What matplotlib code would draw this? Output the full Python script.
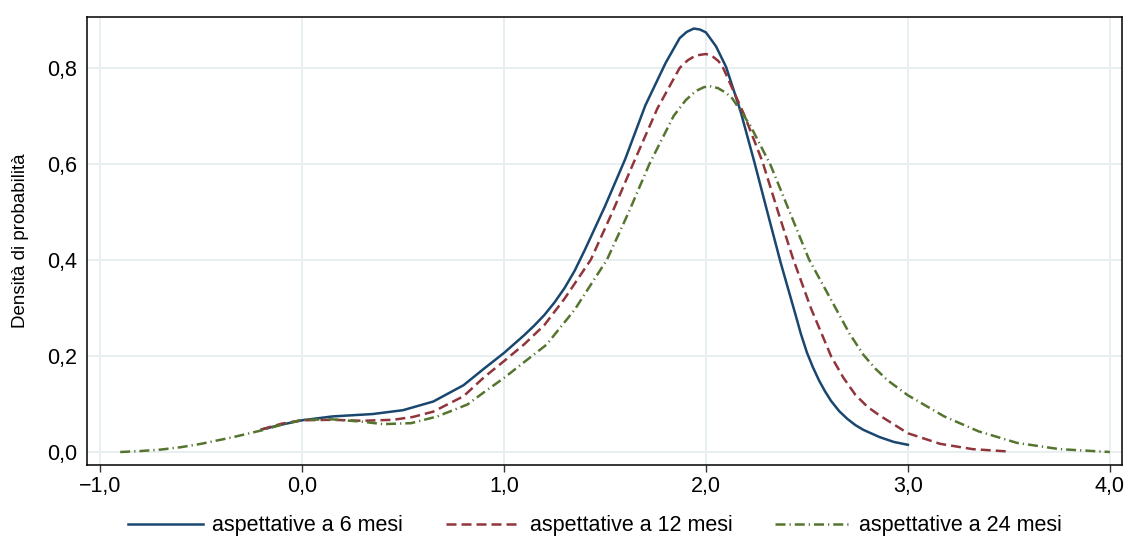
import matplotlib
matplotlib.use("Agg")
import matplotlib.pyplot as plt

plt.rcParams["font.family"] = ["Liberation Sans", "DejaVu Sans"]

# ── data (x = inflation expectation, y = density) ────
x_6m = [-0.2, -0.1, 0.0, 0.15, 0.35, 0.5, 0.65, 0.8, 0.9, 1.0, 1.1, 1.15,
        1.2, 1.25, 1.3, 1.35, 1.4, 1.5, 1.6, 1.7, 1.8, 1.87, 1.905, 1.94,
        1.97, 2.0, 2.05, 2.1, 2.17, 2.24, 2.3, 2.37, 2.44, 2.47, 2.5, 2.53,
        2.56, 2.59, 2.62, 2.66, 2.7, 2.74, 2.78, 2.86, 2.93, 3.0]
y_6m = [0.048, 0.058, 0.067, 0.075, 0.080, 0.088, 0.106, 0.140, 0.174, 0.207,
        0.244, 0.264, 0.286, 0.312, 0.342, 0.378, 0.421, 0.512, 0.610, 0.722,
        0.810, 0.862, 0.875, 0.882, 0.880, 0.874, 0.845, 0.802, 0.712, 0.604,
        0.507, 0.395, 0.292, 0.247, 0.208, 0.177, 0.150, 0.127, 0.107, 0.086,
        0.070, 0.057, 0.047, 0.032, 0.022, 0.016]

x_12m = [-0.2, -0.1, 0.0, 0.15, 0.3, 0.45, 0.55, 0.65, 0.8, 0.9, 1.0, 1.1,
         1.2, 1.3, 1.43, 1.54, 1.64, 1.76, 1.87, 1.91, 1.95, 2.0, 2.03, 2.06,
         2.08, 2.19, 2.28, 2.36, 2.43, 2.52, 2.62, 2.68, 2.74, 2.8, 2.86, 3.0,
         3.16, 3.32, 3.5]
y_12m = [0.048, 0.060, 0.067, 0.068, 0.066, 0.068, 0.074, 0.085, 0.117, 0.156,
         0.190, 0.225, 0.265, 0.320, 0.401, 0.503, 0.601, 0.716, 0.800, 0.816,
         0.826, 0.829, 0.825, 0.815, 0.805, 0.702, 0.605, 0.497, 0.405, 0.300,
         0.200, 0.156, 0.120, 0.095, 0.077, 0.040, 0.018, 0.007, 0.002]

x_24m = [-0.9, -0.8, -0.7, -0.6, -0.5, -0.34, -0.19, -0.1, 0.0, 0.15, 0.3,
         0.4, 0.54, 0.67, 0.82, 0.9, 1.0, 1.1, 1.21, 1.35, 1.51, 1.62, 1.72,
         1.84, 1.9, 1.95, 1.99, 2.02, 2.06, 2.1, 2.13, 2.22, 2.32, 2.42, 2.51,
         2.64, 2.71, 2.78, 2.84, 2.9, 3.0, 3.18, 3.35, 3.54, 3.75, 4.0]
y_24m = [0.001, 0.003, 0.006, 0.011, 0.018, 0.032, 0.047, 0.058, 0.068, 0.069,
         0.064, 0.059, 0.061, 0.075, 0.100, 0.125, 0.155, 0.188, 0.224, 0.297,
         0.401, 0.502, 0.600, 0.700, 0.733, 0.752, 0.760, 0.762, 0.758, 0.748,
         0.737, 0.680, 0.598, 0.495, 0.402, 0.302, 0.248, 0.203, 0.174, 0.150,
         0.119, 0.075, 0.044, 0.020, 0.007, 0.001]

labels = ["aspettative a 6 mesi", "aspettative a 12 mesi", "aspettative a 24 mesi"]
x_ticks = [-1.0, 0.0, 1.0, 2.0, 3.0, 4.0]
x_tick_labels = ["\u22121,0", "0,0", "1,0", "2,0", "3,0", "4,0"]
y_ticks = [0.0, 0.2, 0.4, 0.6, 0.8]
y_tick_labels = ["0,0", "0,2", "0,4", "0,6", "0,8"]

BLUE, RED, GREEN = "#1a476f", "#90353b", "#55752f"
GRID = "#e6eef0"

fig = plt.figure(figsize=(11.29, 5.38), dpi=100)
ax = fig.add_axes([0.0771, 0.1357, 0.9167, 0.8327])

lw = 1.8
ax.plot(x_6m, y_6m, color=BLUE, lw=lw, label=labels[0], zorder=3)
ax.plot(x_12m, y_12m, color=RED, lw=lw, dashes=(4, 2), label=labels[1], zorder=4)
ax.plot(x_24m, y_24m, color=GREEN, lw=lw, dashes=(4, 1.6, 0.5, 1.6),
        label=labels[2], zorder=5)

ax.set_xlim(-1.064, 4.06)
ax.set_ylim(-0.026, 0.906)
ax.set_xticks(x_ticks, x_tick_labels)
ax.set_yticks(y_ticks, y_tick_labels)
ax.grid(True, color=GRID, lw=1.3, zorder=0)
ax.set_axisbelow(True)

ax.tick_params(axis="x", direction="out", length=5, width=1, color="#333333",
               labelsize=15.5, pad=3)
ax.tick_params(axis="y", length=0, labelsize=15.5, pad=7)
for s in ax.spines.values():
    s.set_color("black")
    s.set_linewidth(1.1)

ax.set_ylabel("Densità di probabilità", fontsize=13.5)
ax.yaxis.set_label_coords(-0.056, 0.5)

fig.legend(loc="center", bbox_to_anchor=(0.527, 0.023), ncol=3, frameon=False,
           fontsize=15.5, handlelength=3.5, handletextpad=0.4,
           columnspacing=2.0)

fig.savefig("out.png", dpi=100)
